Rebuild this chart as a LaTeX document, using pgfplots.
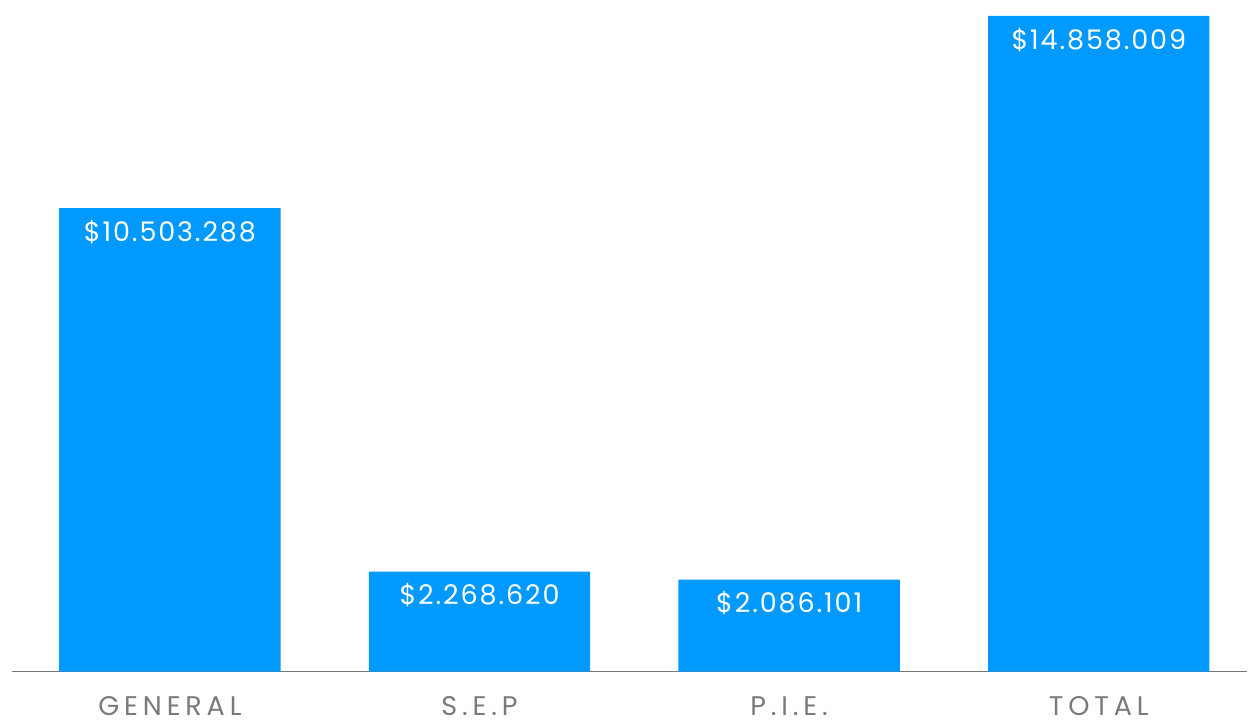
\documentclass[border=0pt]{standalone}
\usepackage{pgfplots}
\usepackage{pgfplotstable}
\pgfplotsset{compat=1.18}
\usepackage{fontspec}
\setmainfont{Poppins}
\newfontfamily\valfont[LetterSpace=7]{Poppins}
\newfontfamily\catfont[LetterSpace=18]{Poppins}
\definecolor{barblue}{HTML}{0099FF}
\definecolor{axgray}{HTML}{777777}
\definecolor{labgray}{HTML}{7A7A7A}

\pgfplotstableread{
x y label
0 10503288 {\$10.503.288}
1 2268620 {\$2.268.620}
2 2086101 {\$2.086.101}
3 14858009 {\$14.858.009}
}\montos

\begin{document}
\begin{tikzpicture}
\begin{axis}[
    scale only axis,
    width=618pt, height=336pt,
    xmin=-0.51, xmax=3.48,
    ymin=0, ymax=15220000,
    axis x line=bottom,
    axis y line=none,
    axis line style={axgray, line width=0.6pt, -},
    xtick=data,
    xticklabels={GENERAL,S.E.P,P.I.E.,TOTAL},
    xticklabel style={font=\catfont\fontsize{13.5}{15}\selectfont, text=labgray, yshift=-9pt},
    major tick length=0pt,
    ybar, bar width=0.715,
    nodes near coords,
    point meta=explicit symbolic,
    every node near coord/.append style={anchor=north, yshift=-2.5pt,
        font=\valfont\fontsize{13.5}{15}\selectfont, text=white},
]
\addplot[fill=barblue, draw=none] table[x=x, y=y, meta=label] {\montos};
\end{axis}
\path ([xshift=-6pt]current axis.south west) rectangle (current axis.north east);
\end{tikzpicture}
\end{document}
